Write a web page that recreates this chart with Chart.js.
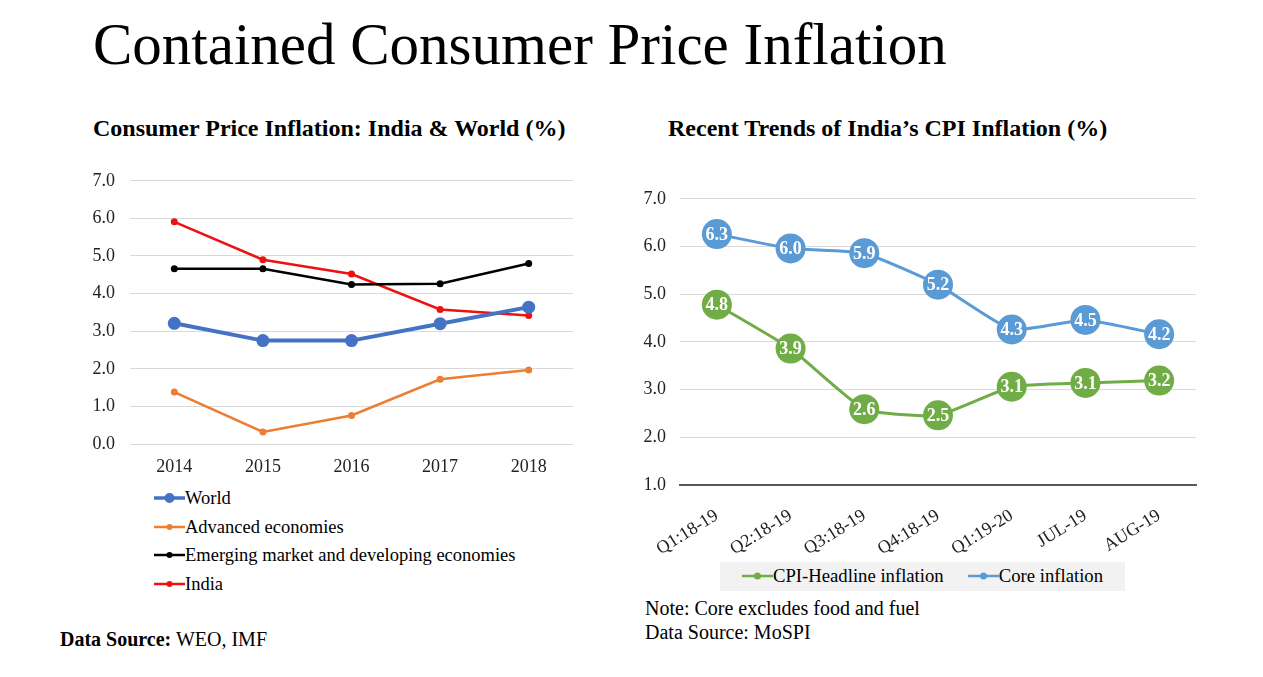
<!DOCTYPE html>
<html>
<head>
<meta charset="utf-8">
<title>Contained Consumer Price Inflation</title>
<script src="https://cdn.jsdelivr.net/npm/chart.js@4.4.0/dist/chart.umd.min.js"></script>
<style>
  body {
    margin: 0;
    width: 1263px;
    height: 677px;
    position: relative;
    overflow: hidden;
    background: #fff;
    color: #000;
    font-family: "Liberation Serif", "Times New Roman", serif;
  }
  .abs { position: absolute; white-space: nowrap; line-height: 1; }
  canvas { position: absolute; }
  .leg-row { position: absolute; left: 154px; font-size: 18.5px; line-height: 1; display: flex; align-items: center; }
  #legend2 {
    position: absolute; left: 720px; top: 562px; width: 405px; height: 29px;
    background: #f2f2f2; font-size: 18.7px; line-height: 1;
    display: flex; align-items: center; justify-content: center; gap: 24px;
  }
  #legend2 span { display: flex; align-items: center; }
</style>
</head>
<body>

<div class="abs" style="left:93px; top:15px; font-size:59px;">Contained Consumer Price Inflation</div>
<div class="abs" style="left:93px; top:116px; font-size:24px; font-weight:bold;">Consumer Price Inflation: India &amp; World (%)</div>
<div class="abs" style="left:668px; top:116px; font-size:24px; font-weight:bold;">Recent Trends of India’s CPI Inflation (%)</div>

<canvas id="worldChart" width="500" height="329" style="left:80px; top:155px;"></canvas>
<canvas id="indiaChart" width="581" height="381" style="left:630px; top:174px;"></canvas>

<div id="legend1"></div>
<div id="legend2"></div>

<div class="abs" style="left:645px; top:598px; font-size:20px;">Note: Core excludes food and fuel</div>
<div class="abs" style="left:645px; top:622px; font-size:20px;">Data Source: MoSPI</div>
<div class="abs" style="left:60px; top:629px; font-size:20px;"><b>Data Source:</b> WEO, IMF</div>

<script>
// left chart: CPI inflation, India & World
const years = ["2014", "2015", "2016", "2017", "2018"];
const world = [3.21, 2.75, 2.75, 3.20, 3.64];
const advanced = [1.38, 0.32, 0.76, 1.72, 1.97];
const emerging = [4.66, 4.66, 4.24, 4.26, 4.80];
const india = [5.91, 4.90, 4.52, 3.58, 3.42];
const worldTicks = [0, 1, 2, 3, 4, 5, 6, 7];

// right chart: recent CPI trends
const periods = ["Q1:18-19", "Q2:18-19", "Q3:18-19", "Q4:18-19", "Q1:19-20", "JUL-19", "AUG-19"];
const headline = [4.78, 3.86, 2.59, 2.46, 3.06, 3.14, 3.19];
const core = [6.26, 5.96, 5.86, 5.20, 4.26, 4.46, 4.16];
const indiaTicks = [1, 2, 3, 4, 5, 6, 7];

const SERIF = '"Liberation Serif", "Times New Roman", serif';
Chart.defaults.font.family = SERIF;
Chart.defaults.color = "#222";
Chart.defaults.animation = false;

const series1 = [
    { label: "World", data: world, color: "#4472c4", width: 4, radius: 6.5 },
    { label: "Advanced economies", data: advanced, color: "#ed7d31", width: 2.5, radius: 3.5 },
    { label: "Emerging market and developing economies", data: emerging, color: "#000000", width: 2.5, radius: 3.5 },
    { label: "India", data: india, color: "#ee1111", width: 2.5, radius: 3.5 },
];

const series2 = [
    { label: "CPI-Headline inflation", data: headline, color: "#70ad47" },
    { label: "Core inflation", data: core, color: "#5b9bd5" },
];

// white value labels inside the big markers
const pointLabels = {
    id: "pointLabels",
    afterDatasetsDraw(chart) {
        const ctx = chart.ctx;
        ctx.save();
        ctx.font = "bold 18px " + SERIF;
        ctx.fillStyle = "#fff";
        ctx.textAlign = "center";
        ctx.textBaseline = "middle";
        chart.data.datasets.forEach((ds, i) => {
            chart.getDatasetMeta(i).data.forEach((pt, j) => {
                ctx.fillText(ds.data[j].toFixed(1), pt.x, pt.y + 1);
            });
        });
        ctx.restore();
    },
};

new Chart(document.getElementById("worldChart"), {
    type: "line",
    data: {
        labels: years,
        datasets: series1.map(s => ({
            label: s.label,
            data: s.data,
            borderColor: s.color,
            backgroundColor: s.color,
            borderWidth: s.width,
            pointRadius: s.radius,
            pointBorderWidth: 0,
            tension: 0,
        })),
    },
    options: {
        responsive: false,
        layout: { padding: { top: 0, right: 7 } },
        plugins: { legend: { display: false }, tooltip: { enabled: false } },
        scales: {
            x: {
                offset: true,
                grid: { display: false, drawTicks: false },
                border: { display: false },
                ticks: { padding: 12, font: { size: 18 }, color: "#222" },
                afterFit: scale => { scale.height = 40; },
            },
            y: {
                min: worldTicks[0],
                max: worldTicks[worldTicks.length - 1],
                afterBuildTicks: scale => { scale.ticks = worldTicks.map(v => ({ value: v })); },
                grid: { color: "#d9d9d9", lineWidth: 1, drawTicks: false },
                border: { display: false },
                ticks: { padding: 15, font: { size: 18 }, color: "#222", callback: v => v.toFixed(1) },
                afterFit: scale => { scale.width = 50; },
            },
        },
    },
});

new Chart(document.getElementById("indiaChart"), {
    type: "line",
    data: {
        labels: periods,
        datasets: series2.map(s => ({
            label: s.label,
            data: s.data,
            borderColor: s.color,
            backgroundColor: s.color,
            borderWidth: 3,
            pointRadius: 15,
            pointBorderWidth: 0,
            tension: 0.15,
        })),
    },
    options: {
        responsive: false,
        layout: { padding: { top: 0, right: 0 } },
        plugins: { legend: { display: false }, tooltip: { enabled: false } },
        scales: {
            x: {
                offset: true,
                grid: { display: false, drawTicks: false },
                border: { display: true, color: "#595959", width: 2 },
                ticks: { padding: 20, minRotation: 32, maxRotation: 32, font: { size: 18 }, color: "#222" },
                afterFit: scale => { scale.height = 70; },
            },
            y: {
                min: indiaTicks[0],
                max: indiaTicks[indiaTicks.length - 1],
                afterBuildTicks: scale => { scale.ticks = indiaTicks.map(v => ({ value: v })); },
                grid: { color: "#d9d9d9", lineWidth: 1, drawTicks: false },
                border: { display: false },
                ticks: { padding: 14, font: { size: 18 }, color: "#222", callback: v => v.toFixed(1) },
                afterFit: scale => { scale.width = 50; },
            },
        },
    },
    plugins: [pointLabels],
});

// html legends, line + dot like the original
function swatch(color, width, radius) {
    return '<svg width="31" height="14"><line x1="0" y1="7" x2="31" y2="7" stroke="' + color +
        '" stroke-width="' + width + '"/><circle cx="15.5" cy="7" r="' + radius + '" fill="' + color + '"/></svg>';
}

const legendTops = [490, 519, 547, 576];
document.getElementById("legend1").innerHTML = series1.map((s, i) =>
    '<div class="leg-row" style="top:' + (legendTops[i] - 1) + 'px">' +
    swatch(s.color, s.width === 4 ? 3.5 : 2.5, s.width === 4 ? 5 : 3) + s.label + "</div>"
).join("");

document.getElementById("legend2").innerHTML = series2.map(s =>
    "<span>" + swatch(s.color, 2.5, 3.5) + s.label + "</span>"
).join("");
</script>
</body>
</html>
